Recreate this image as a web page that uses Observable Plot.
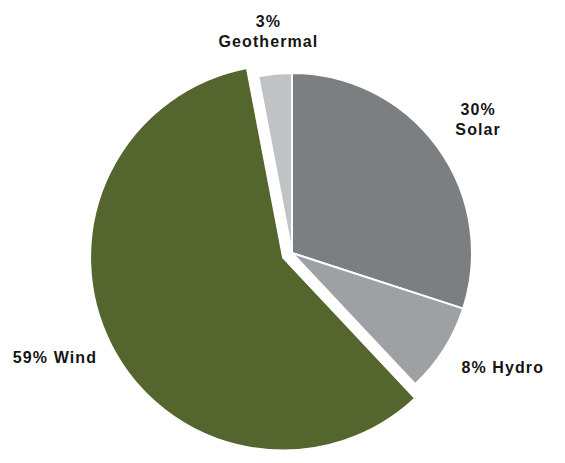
<!DOCTYPE html>
<html><head><meta charset="utf-8">
<script src="https://cdn.jsdelivr.net/npm/d3@7"></script>
<script src="https://cdn.jsdelivr.net/npm/@observablehq/plot@0.6"></script>
<style>
html,body{margin:0;padding:0;background:#fff;}
#chart svg{display:block;}
</style>
</head><body><div id="chart"></div>
<script>
// ---- data ----
const categories = ["Solar", "Hydro", "Wind", "Geothermal"];
const shares = [30, 8, 59, 3];
const labelTexts = ["30%\nSolar", "8% Hydro", "59% Wind", "3%\nGeothermal"];
const explodedCategories = ["Wind"];

// ---- style / layout ----
const colors = {Solar: "#7c7f82", Hydro: "#9ea1a4", Wind: "#55652e", Geothermal: "#c0c3c6"};
const W = 565, H = 463;
const R = 180;            // pie radius in px
const CX = 292, CY = 253; // pie centre in px
const explodeDist = 10 / R;   // in radius units
const explodeScale = 193 / 180;
const labelPad = 20;
const fontSize = 16, letterSpacing = 1.1, lineHeight = 1.25;
const labelNudge = {Hydro: [8, -15], Wind: [-2, -17], Geothermal: [-3, 0]};

const data = categories.map((c, i) => ({
  category: c, share: shares[i], label: labelTexts[i],
  explode: explodedCategories.includes(c)
}));
const arcs = d3.pie().sort(null).value(d => d.share)(data);

// measure label boxes
const ctx = document.createElement("canvas").getContext("2d");
ctx.font = `bold ${fontSize}px "Liberation Sans", Arial, sans-serif`;
function boxOf(text) {
  const lines = text.split("\n");
  const w = d3.max(lines, l => ctx.measureText(l).width + letterSpacing * (l.length - 1));
  const h = fontSize * (1 + lineHeight * (lines.length - 1)) + 3;
  return [w, h];
}

const labelData = arcs.map(a => {
  const mid = (a.startAngle + a.endAngle) / 2;
  const ux = Math.sin(mid), uy = -Math.cos(mid);
  const rr = R * (a.data.explode ? explodeScale : 1);
  const off = a.data.explode ? explodeDist * R : 0;
  const [w, h] = boxOf(a.data.label);
  const ext = Math.abs(ux) * w / 2 + Math.abs(uy) * h / 2;
  const dist = off + rr + labelPad + ext;
  const nd = labelNudge[a.data.category] || [0, 0];
  const px = ux * dist + nd[0], py = uy * dist + nd[1];
  return {label: a.data.label, lx: px / R, ly: -py / R};
});

function pieMark(index, scales) {
  const cx = scales.x(0), cy = scales.y(0), r = scales.x(1) - scales.x(0);
  const g = d3.create("svg:g");
  for (const a of arcs) {
    const mid = (a.startAngle + a.endAngle) / 2;
    const e = a.data.explode ? explodeDist * r : 0;
    const tx = cx + Math.sin(mid) * e, ty = cy - Math.cos(mid) * e;
    const arcGen = d3.arc().innerRadius(0).outerRadius(r * (a.data.explode ? explodeScale : 1));
    g.append("path")
      .attr("transform", `translate(${tx},${ty})`)
      .attr("d", arcGen(a))
      .attr("fill", colors[a.data.category])
      .attr("stroke", "#fff")
      .attr("stroke-width", 2)
      .attr("stroke-linejoin", "round");
  }
  return g.node();
}

const chart = Plot.plot({
  width: W, height: H,
  marginLeft: CX - R, marginRight: W - CX - R,
  marginTop: CY - R, marginBottom: H - CY - R,
  x: {domain: [-1, 1], axis: null},
  y: {domain: [-1, 1], axis: null},
  style: {fontFamily: '"Liberation Sans", Arial, sans-serif', letterSpacing: letterSpacing + "px", background: "#fff"},
  marks: [
    pieMark,
    Plot.text(labelData, {
      x: "lx", y: "ly", text: "label",
      fontSize, fontWeight: "bold", lineHeight,
      fill: "#151515", textAnchor: "middle", lineAnchor: "middle"
    })
  ]
});
document.getElementById("chart").appendChild(chart);
</script>
</body></html>
